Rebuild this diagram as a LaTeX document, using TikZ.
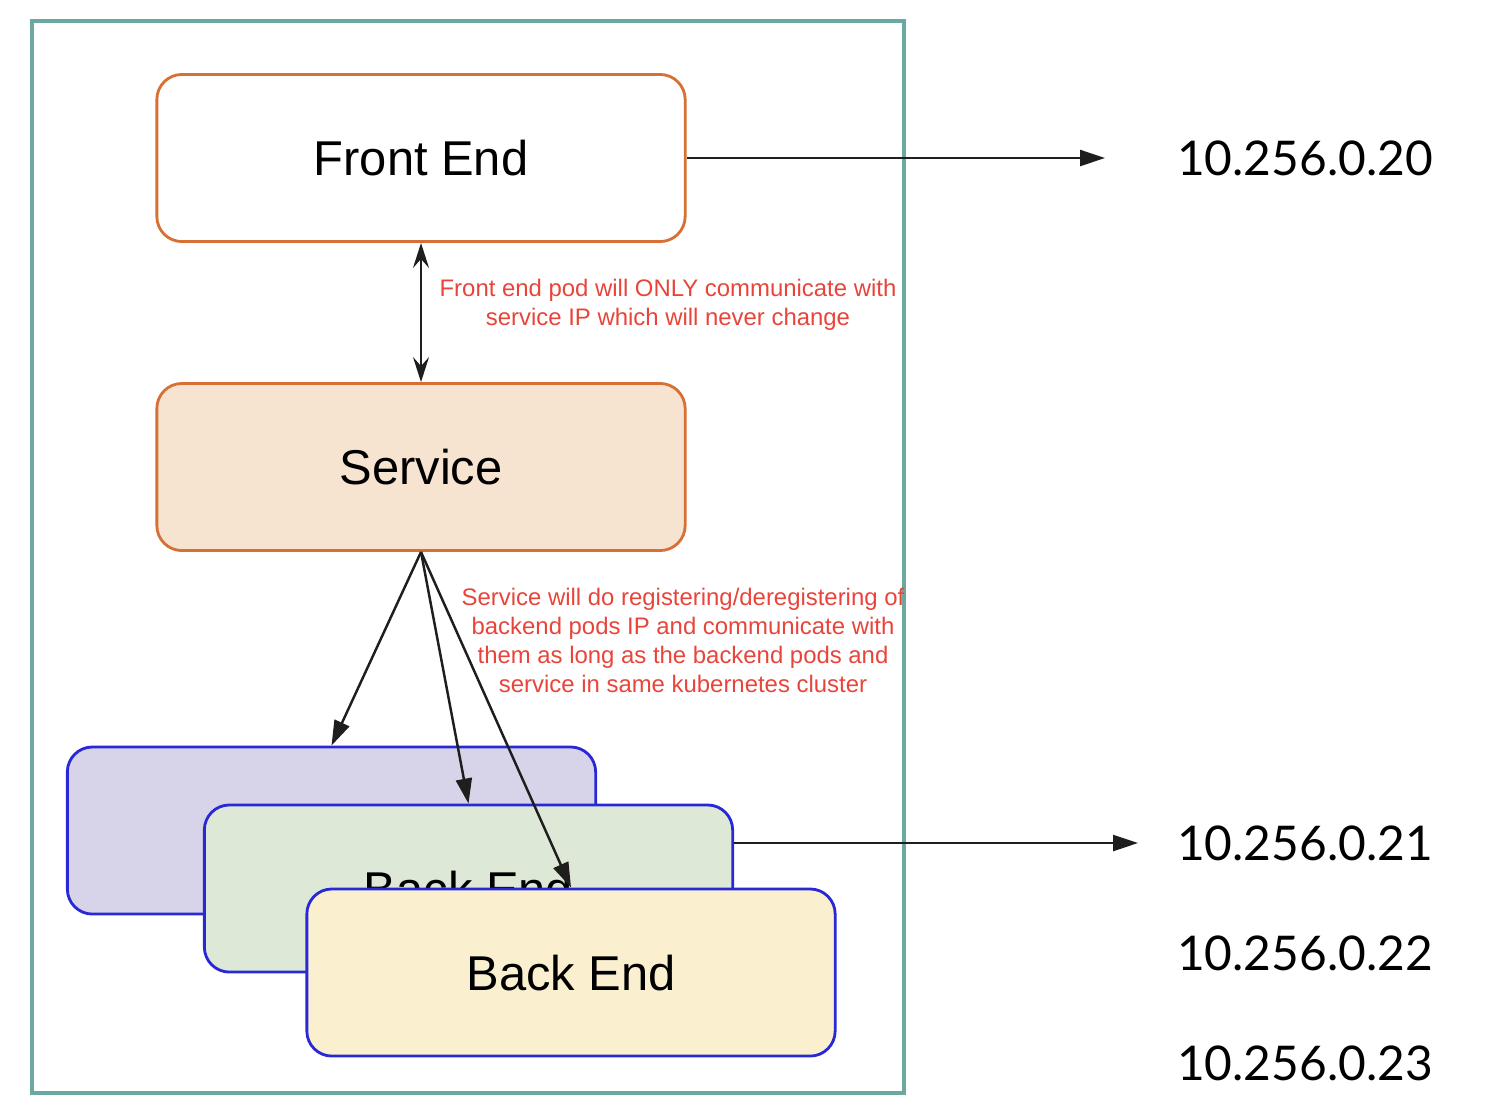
\documentclass[tikz,border=0pt]{standalone}
\usepackage{fontspec}
\setmainfont{Liberation Sans}
\newfontfamily\ipfont{Lato}
\usetikzlibrary{arrows.meta}
\definecolor{frameteal}{RGB}{106,168,160}
\definecolor{podorange}{RGB}{214,112,52}
\definecolor{svcfill}{RGB}{246,228,208}
\definecolor{podblue}{RGB}{40,40,215}
\definecolor{purplefill}{RGB}{215,212,233}
\definecolor{greenfill}{RGB}{221,232,214}
\definecolor{yellowfill}{RGB}{250,240,208}
\definecolor{notered}{RGB}{232,68,58}
\definecolor{arrowgrey}{RGB}{30,30,30}
\begin{document}
\begin{tikzpicture}[x=0.01cm, y=-0.01cm,
         podbox/.style={draw=podorange, line width=0.8pt, rounded corners=0.25cm,
             minimum width=5.28cm, minimum height=1.67cm, font=\fontsize{13.9}{16}\selectfont},
         backbox/.style={podbox, draw=podblue},
         iplabel/.style={font=\ipfont\fontsize{13.6}{16}\selectfont},
         note/.style={text=notered, align=center, font=\fontsize{6.8}{8.25}\selectfont},
         link/.style={draw=arrowgrey, line width=0.7pt, -{Triangle[length=2.5mm, width=1.6mm]}}]
         \useasboundingbox (0, 0) rectangle (1498, 1114);
         \draw[frameteal, line width=0.9pt] (32, 21) rectangle (904, 1093);
         \node[podbox, fill=white] (frontend) at (421, 158){Front End};
         \node[podbox, fill=svcfill] (service) at (421, 467){Service};
         \node[backbox, fill=purplefill] (backend1) at (331.5, 830.5){};
         \node[backbox, fill=greenfill] (backend2) at (468.5, 888.5){Back End};
         \node[backbox, fill=yellowfill] (backend3) at (571, 972.5){Back End};
             \node[note] (frontnote) at (668, 305){Front end pod will ONLY communicate with\\service IP which will never change};
             \node[note] (servicenote) at (683, 640){Service will do registering/deregistering of\\backend pods IP and communicate with\\them as long as the backend pods and\\service in same kubernetes cluster};
         \node[iplabel] (ipfront) at (1305, 158){10.256.0.20};
         \node[iplabel] (ipback1) at (1305, 843){10.256.0.21};
         \node[iplabel] (ipback2) at (1305, 953){10.256.0.22};
         \node[iplabel] (ipback3) at (1305, 1063){10.256.0.23};
         \coordinate (frontout) at (1105, 158);
         \coordinate (backout) at (1138, 843);
             \draw[link] (frontend) -- (frontout);
             \draw[link] (backout -| backend2.east) -- (backout);
             \draw[draw=arrowgrey, line width=0.7pt, {Stealth[length=2.5mm, width=1.6mm, inset=0.9mm]}-{Stealth[length=2.5mm, width=1.6mm, inset=0.9mm]}] (frontend) -- (service);
             \draw[link] (service.south) to (backend1.north);
             \draw[link] (service.south) to (backend2.north);
             \draw[link] (service.south) to (backend3.north);
     \end{tikzpicture}
\end{document}
